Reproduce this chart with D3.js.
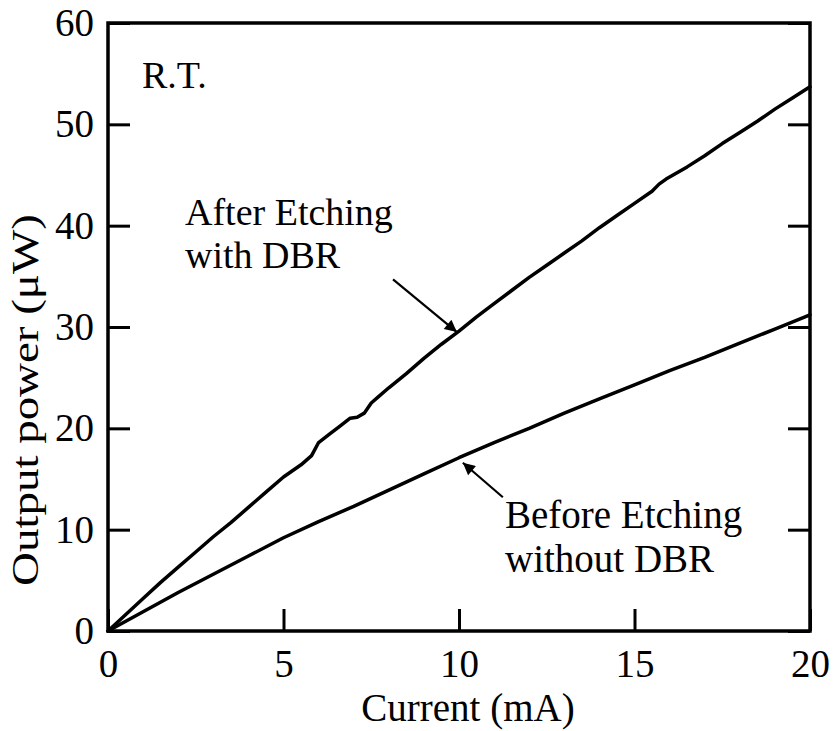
<!DOCTYPE html>
<html>
<head>
<meta charset="utf-8">
<script src="https://cdn.jsdelivr.net/npm/d3@7"></script>
<style>
  html, body { margin: 0; padding: 0; background: #fff; }
  svg { display: block; }
</style>
</head>
<body>
<svg id="chart" width="834" height="731"></svg>
<script>
// ---- data ----
const afterCurrent = [0,0.5,1,1.5,2,2.5,3,3.5,4,4.5,5,5.5,5.8,6.0,6.3,6.6,6.9,7.1,7.3,7.5,7.7,8,8.5,9,9.5,10,10.5,11,11.5,12,12.5,13,13.5,14,14.5,15,15.5,15.7,15.9,16.5,17,17.5,18,18.5,19,19.5,20];
const afterPower   = [0,1.6,3.2,4.8,6.3,7.8,9.3,10.7,12.2,13.7,15.2,16.4,17.3,18.6,19.4,20.2,21.0,21.1,21.5,22.5,23.1,24.0,25.4,26.9,28.3,29.6,31.0,32.3,33.6,34.9,36.1,37.3,38.5,39.8,41.0,42.2,43.4,44.1,44.6,45.8,46.9,48.1,49.2,50.3,51.5,52.6,53.7];
const beforeCurrent = [0,1,2,3,4,5,6,7,8,9,10,11,12,13,14,15,16,17,18,19,20];
const beforePower   = [0,1.9,3.8,5.6,7.4,9.2,10.8,12.3,13.9,15.5,17.1,18.6,20.0,21.5,22.9,24.3,25.7,27.0,28.4,29.8,31.2];
const xTicks = [0,5,10,15,20];
const yTicks = [0,10,20,30,40,50,60];
const xTitle = "Current (mA)";
const yTitle = "Output power (μW)";
const tempLabel = "R.T.";
const afterLabel = ["After Etching", "with DBR"];
const beforeLabel = ["Before Etching", "without DBR"];
// arrows: [fromX, fromY, toX, toY] in data units
const afterArrow = [8.12, 34.7, 9.94, 29.5];
const beforeArrow = [11.25, 13.2, 10.11, 16.6];

// ---- layout ----
const FONT = '"Liberation Serif", "Times New Roman", serif';
const svg = d3.select("#chart");
const L = 108, R = 810, T = 23, B = 631;
const x = d3.scaleLinear().domain([0,20]).range([L,R]);
const y = d3.scaleLinear().domain([0,60]).range([B,T]);
const tickLen = 22;
const fontSize = 39;

svg.append("defs").append("marker")
  .attr("id","arrow").attr("viewBox","0 0 10 10")
  .attr("refX",10).attr("refY",5)
  .attr("markerWidth",8.5).attr("markerHeight",5.5)
  .attr("markerUnits","strokeWidth")
  .attr("orient","auto")
  .append("path").attr("d","M0,0 L10,5 L0,10 z").attr("fill","#000");

// curves
const line = d3.line().x(d => x(d[0])).y(d => y(d[1]));
const afterData = afterCurrent.map((c,i) => [c, afterPower[i]]);
const beforeData = beforeCurrent.map((c,i) => [c, beforePower[i]]);
[afterData, beforeData].forEach(d => {
  svg.append("path").datum(d).attr("d", line)
    .attr("fill","none").attr("stroke","#000").attr("stroke-width",3.5)
    .attr("stroke-linejoin","round").attr("stroke-linecap","round");
});

// axes (ticks inward)
const axisStyle = g => {
  g.attr("font-family", FONT).attr("font-size", fontSize);
  g.select(".domain").remove();
  g.selectAll("line").attr("stroke","#000").attr("stroke-width",3);
  g.selectAll("text").attr("fill","#000");
};
svg.append("g").attr("transform",`translate(0,${B})`)
  .call(d3.axisBottom(x).tickValues(xTicks).tickSize(-tickLen).tickPadding(18).tickFormat(d3.format("d")))
  .call(axisStyle);
svg.append("g").attr("transform",`translate(${L},0)`)
  .call(d3.axisLeft(y).tickValues(yTicks).tickSize(-tickLen).tickPadding(14).tickFormat(d3.format("d")))
  .call(axisStyle);
svg.append("g").attr("transform",`translate(${R},0)`)
  .call(d3.axisRight(y).tickValues(yTicks).tickSize(-tickLen).tickFormat(""))
  .call(axisStyle);

// frame
svg.append("rect").attr("x",L).attr("y",T).attr("width",R-L).attr("height",B-T)
  .attr("fill","none").attr("stroke","#000").attr("stroke-width",3.5);

// titles
svg.append("text").attr("x",468).attr("y",721).attr("text-anchor","middle")
  .attr("font-family",FONT).attr("font-size",fontSize).text(xTitle);
svg.append("text").attr("transform",`translate(38,400) rotate(-90)`)
  .attr("text-anchor","middle").attr("font-family",FONT).attr("font-size",38)
  .attr("textLength",372).attr("lengthAdjust","spacingAndGlyphs").text(yTitle);

// annotations
svg.append("text").attr("x",142).attr("y",88).attr("font-family",FONT).attr("font-size",38).text(tempLabel);
afterLabel.forEach((t,i) => svg.append("text").attr("x",185).attr("y",225+i*43)
  .attr("font-family",FONT).attr("font-size",38).text(t));
beforeLabel.forEach((t,i) => svg.append("text").attr("x",505).attr("y",528+i*44)
  .attr("font-family",FONT).attr("font-size",39).text(t));

[afterArrow, beforeArrow].forEach(a => {
  svg.append("line")
    .attr("x1",x(a[0])).attr("y1",y(a[1])).attr("x2",x(a[2])).attr("y2",y(a[3]))
    .attr("stroke","#000").attr("stroke-width",2.2).attr("marker-end","url(#arrow)");
});
</script>
</body>
</html>
